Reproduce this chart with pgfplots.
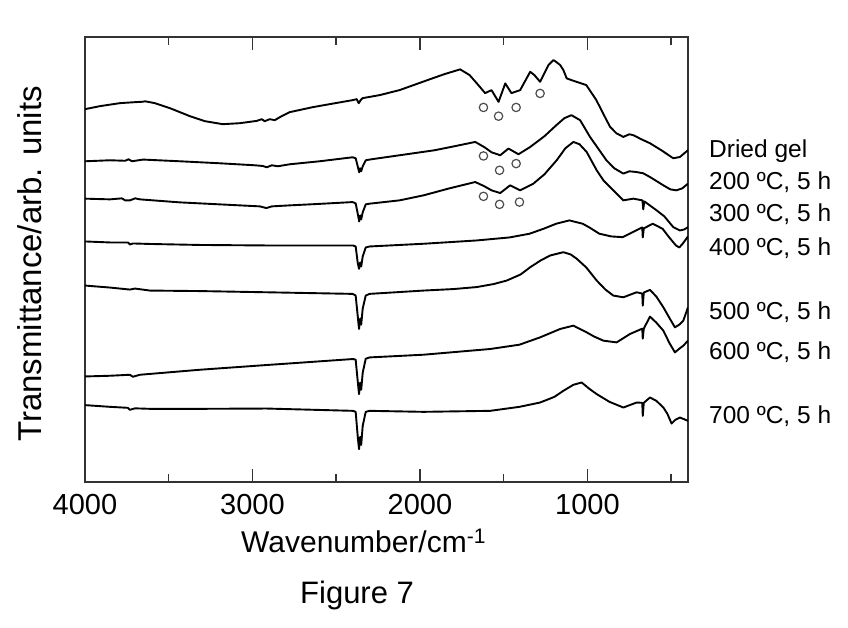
\documentclass[border=0pt]{standalone}
\usepackage{fontspec}
\setmainfont{Liberation Sans}
\usepackage{pgfplots}
\pgfplotsset{compat=1.18}

% FTIR spectra, offset per sample (y in arbitrary units)
\pgfplotstableread{
w y
4000 372
3911 375
3791 378
3700 379
3662 379.3
3640 379.8
3583 378
3493 373
3374 365
3284 360
3177 357
3076 358
2974 360.3
2945 362
2927 360
2897 362
2867 361
2837 364
2778 369
2640 374
2539 377
2402 381
2378 382
2366 378
2354 381
2342 383
2241 386
2122 391
1955 401
1853 407
1760 411.7
1704 406
1662 398
1611 388
1573 391
1531 379.3
1491 397.7
1454 388
1402 391
1342 409.3
1317 406
1283 399.3
1233 416
1203 421
1186 419
1163 416
1144 411
1124 402.7
1096 401
1066 399.3
1007 396
947 381
911 369
865 354.3
828 348
786 344.3
750 347
726 346
679 342
627 338
559 331
488 323
448 324.3
422 328
400 331
}\gel
\pgfplotstableread{
w y
4000 320
3851 321
3760 320.5
3740 322
3720 320
3654 321.7
3434 320
3195 318
2986 316
2939 315.3
2915 314
2885 316
2849 315
2778 317
2599 320
2402 324
2384 323
2372 315
2363 309
2357 313
2351 310
2342 315
2324 321
2290 322
2122 326
1913 331
1794 335
1670 339.3
1615 334
1573 329
1521 326
1472 332.7
1412 327
1342 334.3
1257 345
1186 356
1138 363
1096 366
1044 361
985 344.3
929 331
887 321
840 313
786 307.7
750 310
709 309.3
667 308
627 304.3
547 296
506 292
470 291
434 293
400 297.7
}\tA
\pgfplotstableread{
w y
4000 282.7
3851 282
3780 283
3760 281
3732 281
3700 283
3672 282
3434 279
3195 277
2956 275
2917 273.3
2885 275
2778 276
2599 277.5
2402 279.3
2384 278
2372 268
2363 260
2357 266
2351 262
2342 269
2324 277
2301 277.7
2122 281
1979 286
1824 293
1670 299.3
1615 295
1573 291
1521 288.3
1462 296
1402 291
1323 297.7
1257 307
1184 321
1132 333
1084 339.3
1048 337
1005 329.3
945 311
905 301
865 294.3
822 287
786 281
726 282.7
672 281
667 272
661 280
587 271
541 265
488 254.3
448 251
422 252
400 254.3
}\tB
\pgfplotstableread{
w y
4000 240
3851 239
3744 239
3732 237
3714 238
3612 237.5
3314 236.5
2917 236
2400 236
2384 235
2372 219
2364 212.7
2357 219
2351 215
2342 225
2324 234
2301 235
1979 237.7
1662 241
1466 244
1346 247.7
1257 253
1187 257.7
1108 261
1029 257.7
989 254
929 247.7
857 245
790 244.3
710 251
673 254
670 244
664 253
611 257.7
552 252.7
512 244
472 236
452 234
432 237.7
400 245
}\tC
\pgfplotstableread{
w y
4000 196
3851 194
3732 192
3702 193
3612 191
3314 190.5
2917 189.3
2402 187.7
2384 186
2372 166
2364 152.7
2357 163
2351 157
2342 173
2324 186
2301 187.7
1979 191
1800 192.5
1661 194.5
1560 197.5
1482 201
1400 207
1342 214.3
1280 221
1223 226
1144 229.3
1100 227
1064 222.7
1007 214
945 201
893 192
846 186
786 184.3
707 189.3
673 188
670 176
664 189
627 191.7
589 185
547 174.3
512 164
478 154.3
452 157
428 161
400 174.3
}\tD
\pgfplotstableread{
w y
4000 105.3
3851 106
3732 107
3714 105
3672 107
3314 112
2917 116.7
2718 119
2400 122.7
2384 122
2372 101
2364 87.7
2357 99
2351 92
2342 109
2324 123
2301 124.3
1979 127
1581 132.7
1406 137
1283 144.3
1163 152.7
1084 156
1005 149.3
959 145
905 141
826 139.3
746 147.7
673 153
670 143
664 153
627 165
589 159
547 151
512 139
478 129.3
452 133
428 136
400 141
}\tE
\pgfplotstableread{
w y
4000 76.7
3851 75
3744 74
3732 72
3702 73.5
3612 73
3314 73
2917 73.3
2400 71
2384 70
2372 46
2364 32.7
2357 45
2351 37
2342 56
2324 70
2301 71
1979 70
1581 71
1406 75
1283 79.3
1197 85
1144 91
1084 97
1035 99.3
989 93
945 87.7
869 80
786 74.3
707 79.3
673 79
670 66
664 79
627 84.3
589 81
547 74.3
523 68
498 58.3
476 62
448 64.3
428 63
400 61
}\tF

\begin{document}
\begin{tikzpicture}
\begin{axis}[
    at={(85bp,146bp)}, anchor=south west,
    width=603bp, height=445bp, scale only axis,
    x dir=reverse,
    xmin=400, xmax=4000,
    ymin=0, ymax=444,
    xtick={1000,2000,3000,4000},
    minor xtick={500,1500,2500,3500},
    ytick=\empty,
    tick align=inside,
    major tick length=12.7bp,
    minor tick length=7.7bp,
    axis line style={line width=1.6bp, black!80},
    every tick/.style={line width=1.5bp, black!80},
    /pgf/number format/assume math mode=true,
    /pgf/number format/1000 sep={},
    xticklabel style={font=\fontsize{29bp}{29bp}\selectfont, yshift=-9bp},
    cycle list={{black, solid, mark=none}},
    every axis plot/.append style={line width=1.9bp, line join=round},
]
\addplot table {\gel};
\addplot table {\tA};
\addplot table {\tB};
\addplot table {\tC};
\addplot table {\tD};
\addplot table {\tE};
\addplot table {\tF};
% marked bands
\addplot[only marks, mark=o, mark size=4.2bp, line width=1.2bp,
    mark options={black!70, solid}] coordinates {
    (1621,373.7) (1531,365) (1426,373.7) (1283,387.7)
    (1621,325.3) (1525,311) (1426,317.7)
    (1621,285) (1525,277) (1406,279.3)
};
\end{axis}

\begin{scope}[every node/.style={inner sep=0pt, anchor=base west,
    font=\fontsize{24.5bp}{24.5bp}\selectfont}]
\node at (709bp,470.7bp) {Dried gel};
\node at (709bp,438bp) {200 ºC, 5 h};
\node at (709bp,406.3bp) {300 ºC, 5 h};
\node at (709bp,372bp) {400 ºC, 5 h};
\node at (709bp,308.7bp) {500 ºC, 5 h};
\node at (709bp,268.7bp) {600 ºC, 5 h};
\node at (709bp,204.7bp) {700 ºC, 5 h};
\end{scope}

\node[inner sep=0pt, anchor=base west, font=\fontsize{30bp}{30bp}\selectfont]
    at (241bp,75.3bp) {Wavenumber/cm\textsuperscript{-1}};
\node[inner sep=0pt, anchor=base west, font=\fontsize{31bp}{31bp}\selectfont]
    at (300bp,25bp) {Figure 7};
\node[inner sep=0pt, rotate=90, font=\fontsize{33bp}{33bp}\selectfont]
    at (30bp,364bp) {Transmittance/arb. units};

\pgfresetboundingbox
\useasboundingbox (0,0) rectangle (848bp,628bp);
\end{tikzpicture}
\end{document}
